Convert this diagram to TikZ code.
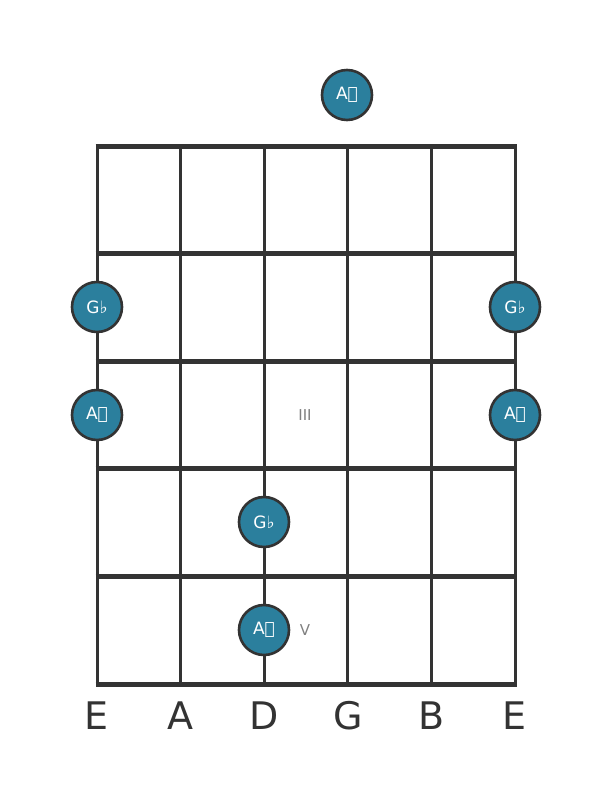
\documentclass[tikz,border=0pt]{standalone}
\usepackage{fontspec}
\setmainfont{DejaVu Sans}
\definecolor{ink}{HTML}{333333}
\definecolor{notefill}{HTML}{2B7F9D}
\tikzset{
  note/.style={circle,draw=ink,line width=2.6pt,fill=notefill,minimum size=50pt,
    inner sep=0pt,text=white,font=\fontsize{17}{17}\selectfont},
  fretnum/.style={text=gray,font=\fontsize{15}{15}\selectfont},
  strname/.style={text=ink,font=\fontsize{38}{38}\selectfont}
}

\begin{document}
\begin{tikzpicture}[x=1pt,y=-1pt]
        \useasboundingbox (0,0) rectangle (611,801);
        % strings
        \foreach \s in {0,...,5}
            \draw[ink,line width=3pt] (97+83.6*\s,146) -- (97+83.6*\s,684);
        % frets
        \foreach \f in {0,...,5}
            \draw[ink,line width=5pt] (95.5,146+107.6*\f) -- (516.5,146+107.6*\f);
        % string names
        \foreach \n [count=\i from 0] in {E,A,D,G,B,E}
            \node[strname] (name\i) at (97+83.6*\i,716) {\n};
        % fret markers
        \node[fretnum] (fretIII) at (305,415) {III};
        \node[fretnum] (fretV) at (305,630) {V};
        % notes
        \node[note] (openG) at (347,95) {A𝄫};
        \node[note] (lowEtwo) at (97,307) {G♭};
        \node[note] (highEtwo) at (515,307) {G♭};
        \node[note] (lowEthree) at (97,415) {A𝄫};
        \node[note] (highEthree) at (515,415) {A𝄫};
        \node[note] (Dfour) at (264,522) {G♭};
        \node[note] (Dfive) at (264,630) {A𝄫};
    \end{tikzpicture}
\end{document}
